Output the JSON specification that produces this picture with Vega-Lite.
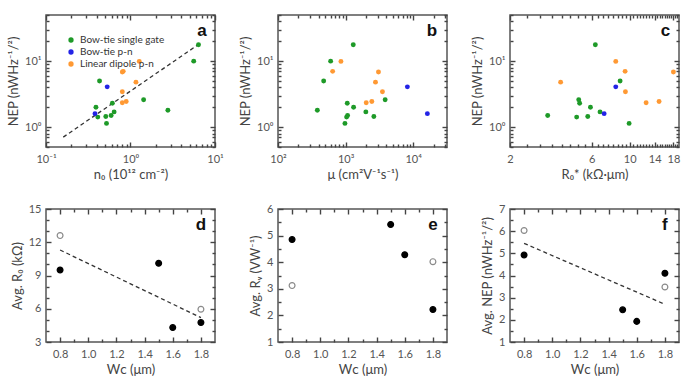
{
"$schema":"https://vega.github.io/schema/vega-lite/v6.json",
"padding":{"left":6,"top":13,"right":5,"bottom":5},
"config":{
 "view":{"stroke":"#555","strokeWidth":1.5},
 "font":"Lato",
 "axis":{"domain":false,"grid":false,"zindex":1,"ticks":true,"tickColor":"#444","tickWidth":1.4,"labelFont":"Lato","labelFontSize":11,"labelColor":"#555","labelFlush":false,"titleFont":"Lato","titleFontSize":13,"titleFontWeight":"normal","titleColor":"#444"},
 "legend":{"labelFont":"Lato"}
},
"datasets":{
 "nep":[
  {"type":"Bow-tie single gate","n0":6.38,"mu":1298,"R0":6.3,"NEP":17.7},
  {"type":"Bow-tie single gate","n0":5.6,"mu":601,"R0":null,"NEP":10.0},
  {"type":"Bow-tie single gate","n0":0.43,"mu":474,"R0":8.79,"NEP":5.0},
  {"type":"Bow-tie single gate","n0":2.77,"mu":382,"R0":null,"NEP":1.8},
  {"type":"Bow-tie single gate","n0":0.61,"mu":1058,"R0":5.1,"NEP":2.3},
  {"type":"Bow-tie single gate","n0":0.39,"mu":1313,"R0":5.9,"NEP":2.0},
  {"type":"Bow-tie single gate","n0":0.64,"mu":1993,"R0":6.71,"NEP":1.7},
  {"type":"Bow-tie single gate","n0":0.51,"mu":2618,"R0":5.69,"NEP":1.45},
  {"type":"Bow-tie single gate","n0":1.43,"mu":3846,"R0":5.04,"NEP":2.6},
  {"type":"Bow-tie single gate","n0":0.59,"mu":1070,"R0":3.32,"NEP":1.5},
  {"type":"Bow-tie single gate","n0":0.41,"mu":1034,"R0":4.9,"NEP":1.42},
  {"type":"Bow-tie single gate","n0":0.52,"mu":978,"R0":9.92,"NEP":1.14},
  {"type":"Bow-tie p-n","n0":0.53,"mu":8200,"R0":8.29,"NEP":4.08},
  {"type":"Bow-tie p-n","n0":0.38,"mu":16200,"R0":7.09,"NEP":1.6},
  {"type":"Linear dipole p-n","n0":1.27,"mu":853,"R0":8.29,"NEP":9.9},
  {"type":"Linear dipole p-n","n0":0.82,"mu":643,"R0":9.4,"NEP":7.0},
  {"type":"Linear dipole p-n","n0":0.8,"mu":3064,"R0":18.0,"NEP":6.85},
  {"type":"Linear dipole p-n","n0":1.16,"mu":2767,"R0":3.95,"NEP":4.8},
  {"type":"Linear dipole p-n","n0":0.8,"mu":3508,"R0":9.44,"NEP":3.43},
  {"type":"Linear dipole p-n","n0":0.8,"mu":2018,"R0":12.47,"NEP":2.34},
  {"type":"Linear dipole p-n","n0":0.89,"mu":2444,"R0":14.84,"NEP":2.45}
 ],
 "lineA":[{"x":0.16,"y":0.705},{"x":6.3,"y":17.7}],
 "d":[{"Wc":0.8,"val":12.6,"kind":"open"},{"Wc":0.8,"val":9.5,"kind":"filled"},{"Wc":1.5,"val":10.1,"kind":"filled"},{"Wc":1.6,"val":4.3,"kind":"filled"},{"Wc":1.8,"val":4.75,"kind":"filled"},{"Wc":1.8,"val":5.95,"kind":"open"}],
 "e":[{"Wc":0.8,"val":4.85,"kind":"filled"},{"Wc":0.8,"val":3.12,"kind":"open"},{"Wc":1.5,"val":5.42,"kind":"filled"},{"Wc":1.6,"val":4.28,"kind":"filled"},{"Wc":1.8,"val":4.02,"kind":"open"},{"Wc":1.8,"val":2.22,"kind":"filled"}],
 "f":[{"Wc":0.8,"val":6.03,"kind":"open"},{"Wc":0.8,"val":4.92,"kind":"filled"},{"Wc":1.5,"val":2.45,"kind":"filled"},{"Wc":1.6,"val":1.93,"kind":"filled"},{"Wc":1.8,"val":4.1,"kind":"filled"},{"Wc":1.8,"val":3.48,"kind":"open"}],
 "lineD":[{"Wc":0.8,"val":11.3},{"Wc":1.8,"val":5.2}],
 "lineF":[{"Wc":0.8,"val":5.45},{"Wc":1.8,"val":2.7}]
},
"bounds":"flush",
"columns":3,
"spacing":{"row":62,"column":63},
"resolve":{"scale":{"color":"independent"},"legend":{"color":"independent"}},
"concat":[
 {"width":169,"height":132,
  "layer":[
   {"data":{"name":"lineA"},"mark":{"type":"line","strokeDash":[4,3],"color":"#333","strokeWidth":1.3},
    "encoding":{"x":{"field":"x","type":"quantitative","axis":null},"y":{"field":"y","type":"quantitative","axis":null}}},
   {"data":{"name":"nep"},"mark":{"type":"circle","size":24,"opacity":1},
    "encoding":{
     "x":{"field":"n0","type":"quantitative","scale":{"type":"log","domain":[0.1,10],"nice":false},
      "axis":{"orient":"bottom","values":[0.1,1,10],"labelExpr":"datum.value < 0.5 ? '10⁻¹' : datum.value < 5 ? '10⁰' : '10¹'","tickSize":5,"offset":-5,"labelPadding":6,"title":"n₀ (10¹² cm⁻²)","titlePadding":4}},
     "y":{"field":"NEP","type":"quantitative","scale":{"type":"log","domain":[0.5,50],"nice":false},
      "axis":{"orient":"left","values":[1,10],"labelExpr":"datum.value < 5 ? '10⁰' : '10¹'","tickSize":5,"offset":-5,"labelPadding":5,"title":"NEP (nWHz⁻¹/²)","titlePadding":4}},
     "color":{"field":"type","type":"nominal","scale":{"domain":["Bow-tie single gate","Bow-tie p-n","Linear dipole p-n"],"range":["#1e9a28","#2323e6","#ff9933"]},
      "legend":{"title":null,"orient":"top-left","offset":20,"padding":0,"rowPadding":2,"labelFontSize":10,"labelColor":"#333","symbolSize":28,"symbolType":"circle"}}
    }},
   {"data":{"name":"nep"},"mark":{"type":"circle","opacity":0},
    "encoding":{"x":{"field":"n0","type":"quantitative","axis":{"orient":"bottom","values":[0.2,0.3,0.4,0.5,0.6,0.7,0.8,0.9,2,3,4,5,6,7,8,9],"labels":false,"tickSize":3,"offset":-3,"title":null}},
     "y":{"field":"NEP","type":"quantitative","axis":{"orient":"left","values":[0.5,0.6,0.7,0.8,0.9,2,3,4,5,6,7,8,9,20,30,40,50],"labels":false,"tickSize":3,"offset":-3,"title":null}}}},
   {"data":{"name":"nep"},"mark":{"type":"circle","opacity":0},
    "encoding":{"x":{"field":"n0","type":"quantitative","axis":{"orient":"top","values":[0.1,1,10],"labels":false,"tickSize":5,"offset":-5,"title":null}},
     "y":{"field":"NEP","type":"quantitative","axis":{"orient":"right","values":[1,10],"labels":false,"tickSize":5,"offset":-5,"title":null}}}},
   {"data":{"name":"nep"},"mark":{"type":"circle","opacity":0},
    "encoding":{"x":{"field":"n0","type":"quantitative","axis":{"orient":"top","values":[0.2,0.3,0.4,0.5,0.6,0.7,0.8,0.9,2,3,4,5,6,7,8,9],"labels":false,"tickSize":3,"offset":-3,"title":null}},
     "y":{"field":"NEP","type":"quantitative","axis":{"orient":"right","values":[0.5,0.6,0.7,0.8,0.9,2,3,4,5,6,7,8,9,20,30,40,50],"labels":false,"tickSize":3,"offset":-3,"title":null}}}},
   {"data":{"values":[{}]},"mark":{"type":"text","text":"a","font":"Liberation Sans","fontSize":17,"fontWeight":"bold","color":"#111"},
    "encoding":{"x":{"datum":7,"type":"quantitative","axis":null},"y":{"datum":29,"type":"quantitative","axis":null}}}
  ],
  "resolve":{"axis":{"x":"independent","y":"independent"}}
 },
 {"width":169,"height":132,
  "layer":[
   {"data":{"name":"nep"},"mark":{"type":"circle","size":24,"opacity":1},
    "encoding":{
     "x":{"field":"mu","type":"quantitative","scale":{"type":"log","domain":[100,31623],"nice":false},
      "axis":{"orient":"bottom","values":[100,1000,10000],"labelExpr":"datum.value < 500 ? '10²' : datum.value < 5000 ? '10³' : '10⁴'","tickSize":5,"offset":-5,"labelPadding":6,"title":"μ (cm²V⁻¹s⁻¹)","titlePadding":4}},
     "y":{"field":"NEP","type":"quantitative","scale":{"type":"log","domain":[0.5,50],"nice":false},
      "axis":{"orient":"left","values":[1,10],"labelExpr":"datum.value < 5 ? '10⁰' : '10¹'","tickSize":5,"offset":-5,"labelPadding":5,"title":"NEP (nWHz⁻¹/²)","titlePadding":4}},
     "color":{"field":"type","type":"nominal","scale":{"domain":["Bow-tie single gate","Bow-tie p-n","Linear dipole p-n"],"range":["#1e9a28","#2323e6","#ff9933"]},"legend":null}
    }},
   {"data":{"name":"nep"},"mark":{"type":"circle","opacity":0},
    "encoding":{"x":{"field":"mu","type":"quantitative","axis":{"orient":"bottom","values":[200,300,400,500,600,700,800,900,2000,3000,4000,5000,6000,7000,8000,9000,20000,30000],"labels":false,"tickSize":3,"offset":-3,"title":null}},
     "y":{"field":"NEP","type":"quantitative","axis":{"orient":"left","values":[0.5,0.6,0.7,0.8,0.9,2,3,4,5,6,7,8,9,20,30,40,50],"labels":false,"tickSize":3,"offset":-3,"title":null}}}},
   {"data":{"name":"nep"},"mark":{"type":"circle","opacity":0},
    "encoding":{"x":{"field":"mu","type":"quantitative","axis":{"orient":"top","values":[100,1000,10000],"labels":false,"tickSize":5,"offset":-5,"title":null}},
     "y":{"field":"NEP","type":"quantitative","axis":{"orient":"right","values":[1,10],"labels":false,"tickSize":5,"offset":-5,"title":null}}}},
   {"data":{"name":"nep"},"mark":{"type":"circle","opacity":0},
    "encoding":{"x":{"field":"mu","type":"quantitative","axis":{"orient":"top","values":[200,300,400,500,600,700,800,900,2000,3000,4000,5000,6000,7000,8000,9000,20000,30000],"labels":false,"tickSize":3,"offset":-3,"title":null}},
     "y":{"field":"NEP","type":"quantitative","axis":{"orient":"right","values":[0.5,0.6,0.7,0.8,0.9,2,3,4,5,6,7,8,9,20,30,40,50],"labels":false,"tickSize":3,"offset":-3,"title":null}}}},
   {"data":{"values":[{}]},"mark":{"type":"text","text":"b","font":"Liberation Sans","fontSize":17,"fontWeight":"bold","color":"#111"},
    "encoding":{"x":{"datum":19000,"type":"quantitative","axis":null},"y":{"datum":29,"type":"quantitative","axis":null}}}
  ],
  "resolve":{"axis":{"x":"independent","y":"independent"}}
 },
 {"width":169,"height":132,
  "layer":[
   {"data":{"name":"nep"},"transform":[{"filter":"isValid(datum.R0)"}],"mark":{"type":"circle","size":24,"opacity":1},
    "encoding":{
     "x":{"field":"R0","type":"quantitative","scale":{"type":"log","domain":[2,19.4],"nice":false},
      "axis":{"orient":"bottom","values":[2,6,10,14,18],"format":"d","tickSize":5,"offset":-5,"labelPadding":6,"title":"R₀* (kΩ·μm)","titlePadding":4}},
     "y":{"field":"NEP","type":"quantitative","scale":{"type":"log","domain":[0.5,50],"nice":false},
      "axis":{"orient":"left","values":[1,10],"labelExpr":"datum.value < 5 ? '10⁰' : '10¹'","tickSize":5,"offset":-5,"labelPadding":5,"title":"NEP (nWHz⁻¹/²)","titlePadding":4}},
     "color":{"field":"type","type":"nominal","scale":{"domain":["Bow-tie single gate","Bow-tie p-n","Linear dipole p-n"],"range":["#1e9a28","#2323e6","#ff9933"]},"legend":null}
    }},
   {"data":{"name":"nep"},"transform":[{"filter":"isValid(datum.R0)"}],"mark":{"type":"circle","opacity":0},
    "encoding":{"x":{"field":"R0","type":"quantitative","axis":{"orient":"bottom","values":[2.5,3,3.5,4,4.5,5,5.5,6.5,7,7.5,8,8.5,9,9.5,10.5,11,11.5,12,12.5,13,13.5,14.5,15,15.5,16,16.5,17,17.5,18.5,19],"labels":false,"tickSize":3,"offset":-3,"title":null}},
     "y":{"field":"NEP","type":"quantitative","axis":{"orient":"left","values":[0.5,0.6,0.7,0.8,0.9,2,3,4,5,6,7,8,9,20,30,40,50],"labels":false,"tickSize":3,"offset":-3,"title":null}}}},
   {"data":{"name":"nep"},"transform":[{"filter":"isValid(datum.R0)"}],"mark":{"type":"circle","opacity":0},
    "encoding":{"x":{"field":"R0","type":"quantitative","axis":{"orient":"top","values":[2,6,10,14,18],"labels":false,"tickSize":5,"offset":-5,"title":null}},
     "y":{"field":"NEP","type":"quantitative","axis":{"orient":"right","values":[1,10],"labels":false,"tickSize":5,"offset":-5,"title":null}}}},
   {"data":{"name":"nep"},"transform":[{"filter":"isValid(datum.R0)"}],"mark":{"type":"circle","opacity":0},
    "encoding":{"x":{"field":"R0","type":"quantitative","axis":{"orient":"top","values":[2.5,3,3.5,4,4.5,5,5.5,6.5,7,7.5,8,8.5,9,9.5,10.5,11,11.5,12,12.5,13,13.5,14.5,15,15.5,16,16.5,17,17.5,18.5,19],"labels":false,"tickSize":3,"offset":-3,"title":null}},
     "y":{"field":"NEP","type":"quantitative","axis":{"orient":"right","values":[0.5,0.6,0.7,0.8,0.9,2,3,4,5,6,7,8,9,20,30,40,50],"labels":false,"tickSize":3,"offset":-3,"title":null}}}},
   {"data":{"values":[{}]},"mark":{"type":"text","text":"c","font":"Liberation Sans","fontSize":17,"fontWeight":"bold","color":"#111"},
    "encoding":{"x":{"datum":16.2,"type":"quantitative","axis":null},"y":{"datum":29,"type":"quantitative","axis":null}}}
  ],
  "resolve":{"axis":{"x":"independent","y":"independent"}}
 },
 {"width":169,"height":133,
  "layer":[
   {"data":{"name":"lineD"},"mark":{"type":"line","strokeDash":[4,3],"color":"#333","strokeWidth":1.3},
    "encoding":{"x":{"field":"Wc","type":"quantitative","axis":null},"y":{"field":"val","type":"quantitative","axis":null}}},
   {"data":{"name":"d"},"mark":{"type":"point","shape":"circle","size":34,"strokeWidth":1.2,"opacity":1},
    "encoding":{
     "x":{"field":"Wc","type":"quantitative","scale":{"domain":[0.7,1.9],"nice":false,"zero":false},
      "axis":{"orient":"bottom","values":[0.8,1.0,1.2,1.4,1.6,1.8],"format":".1f","tickSize":5,"offset":-5,"labelPadding":6,"title":"Wᴄ (μm)","titlePadding":4}},
     "y":{"field":"val","type":"quantitative","scale":{"domain":[3,15],"nice":false,"zero":false},
      "axis":{"orient":"left","values":[3,6,9,12,15],"tickSize":5,"offset":-5,"labelPadding":5,"title":"Avg. R₀ (kΩ)","titlePadding":4}},
     "fill":{"field":"kind","type":"nominal","scale":{"domain":["filled","open"],"range":["#000000","#ffffff"]},"legend":null},
     "stroke":{"field":"kind","type":"nominal","scale":{"domain":["filled","open"],"range":["#000000","#8a8a8a"]},"legend":null}
    }},
   {"data":{"name":"d"},"mark":{"type":"point","opacity":0},
    "encoding":{"x":{"field":"Wc","type":"quantitative","axis":{"orient":"bottom","values":[0.9,1.1,1.3,1.5,1.7],"labels":false,"tickSize":3,"offset":-3,"title":null}},
     "y":{"field":"val","type":"quantitative","axis":{"orient":"left","values":[4,5,7,8,10,11,13,14],"labels":false,"tickSize":3,"offset":-3,"title":null}}}},
   {"data":{"name":"d"},"mark":{"type":"point","opacity":0},
    "encoding":{"x":{"field":"Wc","type":"quantitative","axis":{"orient":"top","values":[0.8,1.0,1.2,1.4,1.6,1.8],"labels":false,"tickSize":5,"offset":-5,"title":null}},
     "y":{"field":"val","type":"quantitative","axis":{"orient":"right","values":[3,6,9,12,15],"labels":false,"tickSize":5,"offset":-5,"title":null}}}},
   {"data":{"name":"d"},"mark":{"type":"point","opacity":0},
    "encoding":{"x":{"field":"Wc","type":"quantitative","axis":{"orient":"top","values":[0.9,1.1,1.3,1.5,1.7],"labels":false,"tickSize":3,"offset":-3,"title":null}},
     "y":{"field":"val","type":"quantitative","axis":{"orient":"right","values":[4,5,7,8,10,11,13,14],"labels":false,"tickSize":3,"offset":-3,"title":null}}}},
   {"data":{"values":[{}]},"mark":{"type":"text","text":"d","font":"Liberation Sans","fontSize":17,"fontWeight":"bold","color":"#111"},
    "encoding":{"x":{"datum":1.8,"type":"quantitative","axis":null},"y":{"datum":13.55,"type":"quantitative","axis":null}}}
  ],
  "resolve":{"axis":{"x":"independent","y":"independent"}}
 },
 {"width":169,"height":133,
  "layer":[
   {"data":{"name":"e"},"mark":{"type":"point","shape":"circle","size":34,"strokeWidth":1.2,"opacity":1},
    "encoding":{
     "x":{"field":"Wc","type":"quantitative","scale":{"domain":[0.7,1.9],"nice":false,"zero":false},
      "axis":{"orient":"bottom","values":[0.8,1.0,1.2,1.4,1.6,1.8],"format":".1f","tickSize":5,"offset":-5,"labelPadding":6,"title":"Wᴄ (μm)","titlePadding":4}},
     "y":{"field":"val","type":"quantitative","scale":{"domain":[1,6],"nice":false,"zero":false},
      "axis":{"orient":"left","values":[1,2,3,4,5,6],"tickSize":5,"offset":-5,"labelPadding":5,"title":"Avg. Rᵥ (VW⁻¹)","titlePadding":4}},
     "fill":{"field":"kind","type":"nominal","scale":{"domain":["filled","open"],"range":["#000000","#ffffff"]},"legend":null},
     "stroke":{"field":"kind","type":"nominal","scale":{"domain":["filled","open"],"range":["#000000","#8a8a8a"]},"legend":null}
    }},
   {"data":{"name":"e"},"mark":{"type":"point","opacity":0},
    "encoding":{"x":{"field":"Wc","type":"quantitative","axis":{"orient":"bottom","values":[0.9,1.1,1.3,1.5,1.7],"labels":false,"tickSize":3,"offset":-3,"title":null}},
     "y":{"field":"val","type":"quantitative","axis":{"orient":"left","values":[1.5,2.5,3.5,4.5,5.5],"labels":false,"tickSize":3,"offset":-3,"title":null}}}},
   {"data":{"name":"e"},"mark":{"type":"point","opacity":0},
    "encoding":{"x":{"field":"Wc","type":"quantitative","axis":{"orient":"top","values":[0.8,1.0,1.2,1.4,1.6,1.8],"labels":false,"tickSize":5,"offset":-5,"title":null}},
     "y":{"field":"val","type":"quantitative","axis":{"orient":"right","values":[1,2,3,4,5,6],"labels":false,"tickSize":5,"offset":-5,"title":null}}}},
   {"data":{"name":"e"},"mark":{"type":"point","opacity":0},
    "encoding":{"x":{"field":"Wc","type":"quantitative","axis":{"orient":"top","values":[0.9,1.1,1.3,1.5,1.7],"labels":false,"tickSize":3,"offset":-3,"title":null}},
     "y":{"field":"val","type":"quantitative","axis":{"orient":"right","values":[1.5,2.5,3.5,4.5,5.5],"labels":false,"tickSize":3,"offset":-3,"title":null}}}},
   {"data":{"values":[{}]},"mark":{"type":"text","text":"e","font":"Liberation Sans","fontSize":17,"fontWeight":"bold","color":"#111"},
    "encoding":{"x":{"datum":1.8,"type":"quantitative","axis":null},"y":{"datum":5.4,"type":"quantitative","axis":null}}}
  ],
  "resolve":{"axis":{"x":"independent","y":"independent"}}
 },
 {"width":169,"height":133,
  "layer":[
   {"data":{"name":"lineF"},"mark":{"type":"line","strokeDash":[4,3],"color":"#333","strokeWidth":1.3},
    "encoding":{"x":{"field":"Wc","type":"quantitative","axis":null},"y":{"field":"val","type":"quantitative","axis":null}}},
   {"data":{"name":"f"},"mark":{"type":"point","shape":"circle","size":34,"strokeWidth":1.2,"opacity":1},
    "encoding":{
     "x":{"field":"Wc","type":"quantitative","scale":{"domain":[0.7,1.9],"nice":false,"zero":false},
      "axis":{"orient":"bottom","values":[0.8,1.0,1.2,1.4,1.6,1.8],"format":".1f","tickSize":5,"offset":-5,"labelPadding":6,"title":"Wᴄ (μm)","titlePadding":4}},
     "y":{"field":"val","type":"quantitative","scale":{"domain":[1,7],"nice":false,"zero":false},
      "axis":{"orient":"left","values":[1,2,3,4,5,6,7],"tickSize":5,"offset":-5,"labelPadding":5,"title":"Avg. NEP (nWHz⁻¹/²)","titlePadding":4}},
     "fill":{"field":"kind","type":"nominal","scale":{"domain":["filled","open"],"range":["#000000","#ffffff"]},"legend":null},
     "stroke":{"field":"kind","type":"nominal","scale":{"domain":["filled","open"],"range":["#000000","#8a8a8a"]},"legend":null}
    }},
   {"data":{"name":"f"},"mark":{"type":"point","opacity":0},
    "encoding":{"x":{"field":"Wc","type":"quantitative","axis":{"orient":"bottom","values":[0.9,1.1,1.3,1.5,1.7],"labels":false,"tickSize":3,"offset":-3,"title":null}},
     "y":{"field":"val","type":"quantitative","axis":{"orient":"left","values":[1.5,2.5,3.5,4.5,5.5,6.5],"labels":false,"tickSize":3,"offset":-3,"title":null}}}},
   {"data":{"name":"f"},"mark":{"type":"point","opacity":0},
    "encoding":{"x":{"field":"Wc","type":"quantitative","axis":{"orient":"top","values":[0.8,1.0,1.2,1.4,1.6,1.8],"labels":false,"tickSize":5,"offset":-5,"title":null}},
     "y":{"field":"val","type":"quantitative","axis":{"orient":"right","values":[1,2,3,4,5,6,7],"labels":false,"tickSize":5,"offset":-5,"title":null}}}},
   {"data":{"name":"f"},"mark":{"type":"point","opacity":0},
    "encoding":{"x":{"field":"Wc","type":"quantitative","axis":{"orient":"top","values":[0.9,1.1,1.3,1.5,1.7],"labels":false,"tickSize":3,"offset":-3,"title":null}},
     "y":{"field":"val","type":"quantitative","axis":{"orient":"right","values":[1.5,2.5,3.5,4.5,5.5,6.5],"labels":false,"tickSize":3,"offset":-3,"title":null}}}},
   {"data":{"values":[{}]},"mark":{"type":"text","text":"f","font":"Liberation Sans","fontSize":17,"fontWeight":"bold","color":"#111"},
    "encoding":{"x":{"datum":1.8,"type":"quantitative","axis":null},"y":{"datum":6.28,"type":"quantitative","axis":null}}}
  ],
  "resolve":{"axis":{"x":"independent","y":"independent"}}
 }
]
}
